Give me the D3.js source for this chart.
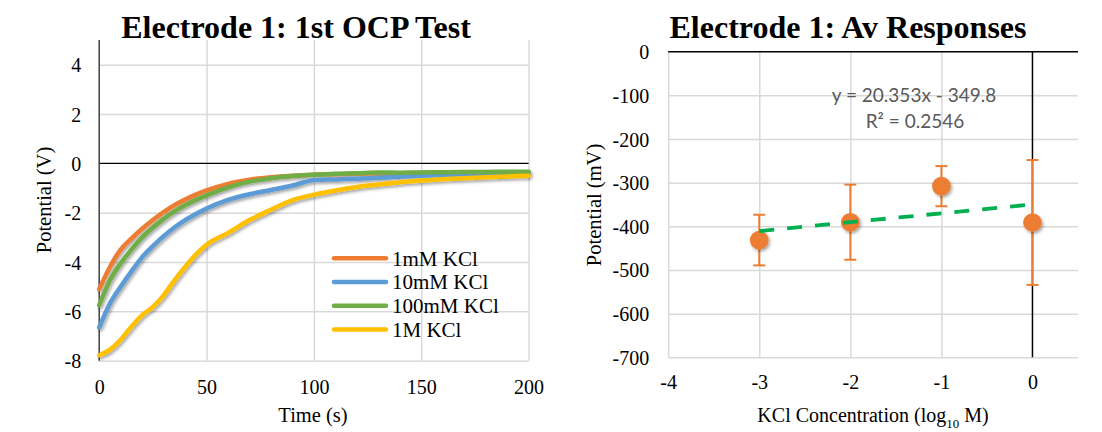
<!DOCTYPE html>
<html>
<head>
<meta charset="utf-8">
<script src="https://cdn.jsdelivr.net/npm/d3@7"></script>
<style>
  html, body { margin: 0; padding: 0; background: #fff; }
  svg { display: block; }
</style>
</head>
<body>
<svg id="chart" width="1102" height="432"></svg>
<script>
// ---------- OCP test: potential (V) vs time (s) ----------
const ocpTimes = [0, 5, 10, 15, 20, 25, 30, 35, 40, 45, 50, 60, 70, 80, 90, 100, 110, 120, 130, 140, 150, 160, 170, 180, 190, 200];
const ocp1mM   = [-5.1, -4.2, -3.5, -3.05, -2.65, -2.3, -1.98, -1.7, -1.47, -1.27, -1.1, -0.83, -0.66, -0.56, -0.5, -0.46, -0.44, -0.42, -0.41, -0.4, -0.39, -0.38, -0.38, -0.37, -0.37, -0.36];
const ocp10mM  = [-6.65, -5.68, -5.0, -4.38, -3.8, -3.35, -2.95, -2.6, -2.3, -2.05, -1.83, -1.48, -1.25, -1.08, -0.9, -0.68, -0.65, -0.62, -0.58, -0.54, -0.5, -0.47, -0.44, -0.42, -0.41, -0.4];
const ocp100mM = [-5.75, -4.74, -4.05, -3.5, -3.0, -2.6, -2.25, -1.95, -1.7, -1.48, -1.3, -0.97, -0.74, -0.6, -0.51, -0.46, -0.42, -0.4, -0.37, -0.38, -0.37, -0.36, -0.35, -0.35, -0.34, -0.34];
const ocp1M    = [-7.78, -7.55, -7.15, -6.62, -6.15, -5.82, -5.35, -4.75, -4.2, -3.7, -3.3, -2.82, -2.3, -1.88, -1.49, -1.27, -1.1, -0.96, -0.86, -0.77, -0.7, -0.64, -0.6, -0.56, -0.53, -0.5];
const ocpSeriesNames = ["1mM KCl", "10mM KCl", "100mM KCl", "1M KCl"];
const ocpColors = ["#ED7D31", "#5B9BD5", "#70AD47", "#FFC000"];
const ocpXTicks = [0, 50, 100, 150, 200];
const ocpYTicks = [-8, -6, -4, -2, 0, 2, 4];

// ---------- Average responses: potential (mV) vs log10 concentration ----------
const logConc = [-3, -2, -1, 0];
const avgPotential = [-431.5, -390.5, -308, -391.2];
const errPotential = [58, 86, 46, 143];
const trendSlope = 20.353;
const trendIntercept = -349.8;
const trendR2 = 0.2546;
const respXTicks = [-4, -3, -2, -1, 0];
const respYTicks = [0, -100, -200, -300, -400, -500, -600, -700];

const svg = d3.select("#chart");
const defs = svg.append("defs");

// soft drop shadow used on lines and markers
const sh = defs.append("filter").attr("id", "shadow")
  .attr("x", "-30%").attr("y", "-30%").attr("width", "160%").attr("height", "160%");
sh.append("feDropShadow").attr("dx", 1.5).attr("dy", 2).attr("stdDeviation", 1.8)
  .attr("flood-color", "#000").attr("flood-opacity", 0.35);

const gridColor = "#d9d9d9";
const serif = '"Liberation Serif", "Times New Roman", serif';
const plainNum = d => String(d);   // hyphen-minus, no decimals

// ================= Left chart =================
const xL = d3.scaleLinear().domain([0, 200]).range([99.2, 528.6]);
const yL = d3.scaleLinear().domain([-8, 5]).range([360.7, 40]);
const left = svg.append("g");

// gridlines
left.append("g").attr("transform", `translate(0,${yL(-8)})`)
  .call(d3.axisBottom(xL).tickValues([50, 100, 150, 200]).tickSize(-(yL(-8) - yL(5))).tickFormat(""))
  .call(g => g.select(".domain").remove())
  .call(g => g.selectAll("line").attr("stroke", gridColor).attr("stroke-width", 1.5));
left.append("g").attr("transform", `translate(${xL(0)},0)`)
  .call(d3.axisRight(yL).tickValues([-8, -6, -4, -2, 2, 4]).tickSize(xL(200) - xL(0)).tickFormat(""))
  .call(g => g.select(".domain").remove())
  .call(g => g.selectAll("line").attr("stroke", gridColor).attr("stroke-width", 1.5));

// axis lines (x axis crosses at 0)
left.append("line").attr("x1", xL(0)).attr("x2", xL(200)).attr("y1", yL(0)).attr("y2", yL(0))
  .attr("stroke", "#000").attr("stroke-width", 1.3);
left.append("line").attr("x1", xL(0)).attr("x2", xL(0)).attr("y1", yL(5)).attr("y2", yL(-8))
  .attr("stroke", "#404040").attr("stroke-width", 1.5);

// tick labels
left.append("g").attr("transform", `translate(${xL(0)},0)`)
  .call(d3.axisLeft(yL).tickValues(ocpYTicks).tickSize(0).tickPadding(18).tickFormat(plainNum))
  .call(g => g.select(".domain").remove())
  .call(g => g.selectAll("text").attr("font-family", serif).attr("font-size", 20).attr("fill", "#000")
    .attr("dy", "0.35em"));
left.append("g").attr("transform", `translate(0,${yL(-8)})`)
  .call(d3.axisBottom(xL).tickValues(ocpXTicks).tickSize(0).tickPadding(0).tickFormat(plainNum))
  .call(g => g.select(".domain").remove())
  .call(g => g.selectAll("text").attr("font-family", serif).attr("font-size", 20).attr("fill", "#000")
    .attr("y", 26).attr("dy", "0.35em"));

// series lines
const ocpValues = [ocp1mM, ocp10mM, ocp100mM, ocp1M];
const lineL = d3.line().x((d, i) => xL(ocpTimes[i])).y(d => yL(d)).curve(d3.curveMonotoneX);
const seriesG = left.append("g").attr("filter", "url(#shadow)");
ocpValues.forEach((vals, k) => {
  seriesG.append("path").datum(vals).attr("d", lineL)
    .attr("fill", "none").attr("stroke", ocpColors[k]).attr("stroke-width", 4.5)
    .attr("stroke-linejoin", "round").attr("stroke-linecap", "round");
});

// legend
const legend = left.append("g");
ocpSeriesNames.forEach((name, k) => {
  const y = 258.3 + k * 23.7;
  legend.append("line").attr("x1", 334).attr("x2", 386).attr("y1", y).attr("y2", y)
    .attr("stroke", ocpColors[k]).attr("stroke-width", 4.5).attr("stroke-linecap", "round");
  legend.append("text").attr("x", 392).attr("y", y).attr("dy", "0.35em")
    .attr("font-family", serif).attr("font-size", 21).text(name);
});

// titles
left.append("text").attr("x", 296).attr("y", 38).attr("text-anchor", "middle")
  .attr("font-family", serif).attr("font-size", 32).attr("font-weight", "bold").text("Electrode 1: 1st OCP Test");
left.append("text").attr("x", 313).attr("y", 415).attr("dy", "0.35em").attr("text-anchor", "middle")
  .attr("font-family", serif).attr("font-size", 20.5).text("Time (s)");
left.append("text").attr("transform", "translate(44,200) rotate(-90)").attr("dy", "0.35em")
  .attr("text-anchor", "middle").attr("font-family", serif).attr("font-size", 20.5).text("Potential (V)");

// ================= Right chart =================
const xR = d3.scaleLinear().domain([-4, 0.5]).range([668.2, 1078]);
const yR = d3.scaleLinear().domain([-700, 0]).range([357.3, 51.7]);
const right = svg.append("g");

right.append("g").attr("transform", `translate(0,${yR(-700)})`)
  .call(d3.axisBottom(xR).tickValues([-4, -3, -2, -1]).tickSize(-(yR(-700) - yR(0))).tickFormat(""))
  .call(g => g.select(".domain").remove())
  .call(g => g.selectAll("line").attr("stroke", gridColor).attr("stroke-width", 1.5));
right.append("g").attr("transform", `translate(${xR(-4)},0)`)
  .call(d3.axisRight(yR).tickValues([-700, -600, -500, -400, -300, -200, -100]).tickSize(xR(0.5) - xR(-4)).tickFormat(""))
  .call(g => g.select(".domain").remove())
  .call(g => g.selectAll("line").attr("stroke", gridColor).attr("stroke-width", 1.5));

right.append("line").attr("x1", xR(-4)).attr("x2", xR(0.5)).attr("y1", yR(0)).attr("y2", yR(0))
  .attr("stroke", "#000").attr("stroke-width", 1.5);
right.append("line").attr("x1", xR(0)).attr("x2", xR(0)).attr("y1", yR(0)).attr("y2", yR(-700))
  .attr("stroke", "#000").attr("stroke-width", 1.5);

right.append("g").attr("transform", `translate(${xR(-4)},0)`)
  .call(d3.axisLeft(yR).tickValues(respYTicks).tickSize(0).tickPadding(19).tickFormat(plainNum))
  .call(g => g.select(".domain").remove())
  .call(g => g.selectAll("text").attr("font-family", serif).attr("font-size", 20).attr("fill", "#000")
    .attr("dy", "0.35em"));
right.append("g").attr("transform", `translate(0,${yR(-700)})`)
  .call(d3.axisBottom(xR).tickValues(respXTicks).tickSize(0).tickPadding(0).tickFormat(plainNum))
  .call(g => g.select(".domain").remove())
  .call(g => g.selectAll("text").attr("font-family", serif).attr("font-size", 20).attr("fill", "#000")
    .attr("y", 24.5).attr("dy", "0.35em"));

// error bars
const errG = right.append("g").attr("stroke", "#ED7D31").attr("stroke-width", 2);
logConc.forEach((x, i) => {
  const cx = xR(x), top = yR(avgPotential[i] + errPotential[i]), bot = yR(avgPotential[i] - errPotential[i]);
  errG.append("line").attr("x1", cx).attr("x2", cx).attr("y1", top).attr("y2", bot);
  errG.append("line").attr("x1", cx - 6).attr("x2", cx + 6).attr("y1", top).attr("y2", top);
  errG.append("line").attr("x1", cx - 6).attr("x2", cx + 6).attr("y1", bot).attr("y2", bot);
});

// markers
right.append("g").attr("filter", "url(#shadow)")
  .selectAll("circle").data(logConc).join("circle")
  .attr("cx", d => xR(d)).attr("cy", (d, i) => yR(avgPotential[i])).attr("r", 9.3)
  .attr("fill", "#ED7D31");

// linear trendline
const trendX = d3.extent(logConc);
right.append("line")
  .attr("x1", xR(trendX[0])).attr("y1", yR(trendSlope * trendX[0] + trendIntercept))
  .attr("x2", xR(trendX[1])).attr("y2", yR(trendSlope * trendX[1] + trendIntercept))
  .attr("stroke", "#00B050").attr("stroke-width", 3.8).attr("stroke-dasharray", "15,13");

// trendline equation
const eqFont = 'Lato, "Open Sans", sans-serif';
right.append("text").attr("x", 914).attr("y", 95).attr("dy", "0.35em").attr("text-anchor", "middle")
  .attr("font-family", eqFont).attr("font-size", 19).attr("fill", "#595959")
  .text(`y = ${trendSlope}x - ${Math.abs(trendIntercept)}`);
right.append("text").attr("x", 915).attr("y", 121).attr("dy", "0.35em").attr("text-anchor", "middle")
  .attr("font-family", eqFont).attr("font-size", 19).attr("fill", "#595959")
  .text(`R² = ${trendR2}`);

// titles
right.append("text").attr("x", 848).attr("y", 38).attr("text-anchor", "middle")
  .attr("font-family", serif).attr("font-size", 32).attr("font-weight", "bold").text("Electrode 1: Av Responses");
const xt = right.append("text").attr("x", 873).attr("y", 415).attr("dy", "0.35em").attr("text-anchor", "middle")
  .attr("font-family", serif).attr("font-size", 20);
xt.append("tspan").text("KCl Concentration (log");
xt.append("tspan").attr("font-size", 13).attr("dy", "0.45em").text("10");
xt.append("tspan").attr("dy", "-0.3em").text(" M)");
right.append("text").attr("transform", "translate(594,205) rotate(-90)").attr("dy", "0.35em")
  .attr("text-anchor", "middle").attr("font-family", serif).attr("font-size", 20.5).text("Potential (mV)");
</script>
</body>
</html>
